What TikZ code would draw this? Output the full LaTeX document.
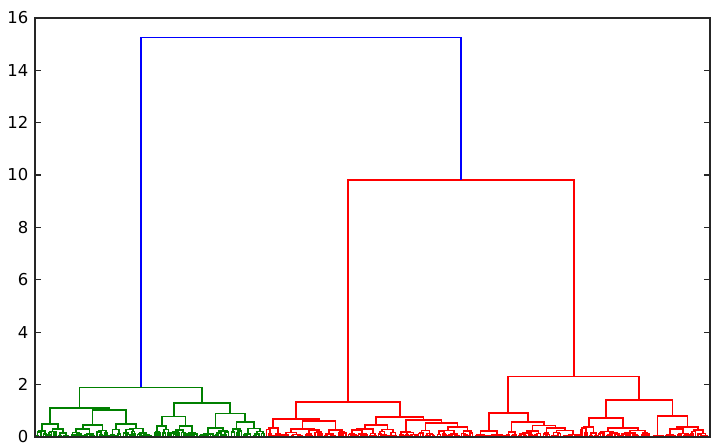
\documentclass[tikz,border=0pt]{standalone}
\usepackage{fontspec}
\setmainfont{DejaVu Sans}
\definecolor{mplgreen}{rgb}{0,0.5,0}
\tikzset{
  link/.style={line width=1.4pt, draw=\lkcol},
  frame/.style={line width=1.3pt, black!85},
  tickmark/.style={line width=0.9pt, black!85},
  ticklab/.style={anchor=east, inner sep=0pt, font=\fontsize{14}{16}\selectfont}
}
\def\lkcol{black}

% random sub-cluster between leaves a..b with top height h
\newcommand\subtr[3]{%
  \pgfmathsetmacro\sA{#1}\pgfmathsetmacro\sB{#2}\pgfmathsetmacro\sH{#3}%
  \pgfmathsetmacro\sW{\sB-\sA}%
  \ifdim\sW pt<3.2pt
    \pgfmathsetmacro\sX{(\sA+\sB)/2}\xdef\subx{\sX}\gdef\suby{0}%
  \else
    \pgfmathsetmacro\sM{\sA+\sW*(0.3+0.4*rnd)}%
    \pgfmathsetmacro\sHa{\sH*(0.3+0.6*rnd)}%
    \pgfmathsetmacro\sHb{\sH*(0.3+0.6*rnd)}%
    \edef\nxt{\noexpand\subtr{\sA}{\sM}{\sHa}}\begingroup\nxt\endgroup
    \let\sXa\subx\let\sYa\suby
    \edef\nxt{\noexpand\subtr{\sM}{\sB}{\sHb}}\begingroup\nxt\endgroup
    \let\sXb\subx\let\sYb\suby
    \draw[link] (\sXa,\sYa) |- (\sXb,\sH) -- (\sXb,\sYb);
    \pgfmathsetmacro\sX{(\sXa+\sXb)/2}\xdef\subx{\sX}\xdef\suby{\sH}%
  \fi}
\newcommand\keepnd[1]{%
  \expandafter\xdef\csname dx#1\endcsname{\subx}%
  \expandafter\xdef\csname dy#1\endcsname{\suby}}
% leaf cluster: name, a, b, h
\newcommand\clst[4]{\begingroup\subtr{#2}{#3}{#4}\endgroup\keepnd{#1}}
% join two clusters: left, right, h, new name
\newcommand\joinlk[4]{%
  \edef\jXa{\csname dx#1\endcsname}\edef\jYa{\csname dy#1\endcsname}%
  \edef\jXb{\csname dx#2\endcsname}\edef\jYb{\csname dy#2\endcsname}%
  \draw[link] (\jXa,\jYa) |- (\jXb,#3) -- (\jXb,\jYb);
  \pgfmathsetmacro\jX{(\jXa+\jXb)/2}\xdef\subx{\jX}\xdef\suby{#3}\keepnd{#4}}

\begin{document}
\begin{tikzpicture}[x=0.03cm, y=0.786cm]
\useasboundingbox (0,-0.1908) rectangle (723,16.679);
\pgfmathsetseed{11}

% green cluster
\def\lkcol{mplgreen}
\clst{A1}{36}{47}{0.22}
\clst{A2}{47}{70}{0.30}
\joinlk{A1}{A2}{0.50}{G1a}
\clst{B1}{70}{96}{0.30}
\clst{B2}{96}{108}{0.25}
\joinlk{B1}{B2}{0.46}{G1b1}
\clst{C1}{108}{122}{0.28}
\clst{C2}{122}{154}{0.33}
\joinlk{C1}{C2}{0.50}{G1b2}
\joinlk{G1b1}{G1b2}{1.03}{G1b}
\joinlk{G1a}{G1b}{1.10}{G1}
\clst{D1}{154}{170}{0.42}
\clst{D2}{170}{198}{0.42}
\joinlk{D1}{D2}{0.78}{G2a}
\clst{E1}{198}{230}{0.34}
\clst{E2}{230}{243}{0.30}
\clst{E3}{243}{265}{0.32}
\joinlk{E2}{E3}{0.57}{G2b2}
\joinlk{E1}{G2b2}{0.90}{G2b}
\joinlk{G2a}{G2b}{1.30}{G2}
\joinlk{G1}{G2}{1.89}{G}

% red cluster
\def\lkcol{red}
\clst{F1}{265}{283}{0.34}
\clst{F2}{283}{323}{0.30}
\clst{F3}{323}{347}{0.27}
\joinlk{F2}{F3}{0.61}{RL1b}
\joinlk{F1}{RL1b}{0.69}{RL1}
\clst{F4}{347}{377}{0.30}
\clst{F5}{377}{398}{0.28}
\joinlk{F4}{F5}{0.46}{RL2a}
\clst{F6}{398}{418}{0.20}
\clst{F7}{418}{436}{0.25}
\clst{F8}{436}{460}{0.25}
\clst{F9}{460}{474}{0.22}
\joinlk{F8}{F9}{0.38}{RL2d}
\joinlk{F7}{RL2d}{0.53}{RL2c}
\joinlk{F6}{RL2c}{0.65}{RL2b}
\joinlk{RL2a}{RL2b}{0.76}{RL2}
\joinlk{RL1}{RL2}{1.34}{RL}
\clst{H1}{474}{506}{0.22}
\clst{H2}{506}{518}{0.18}
\clst{H3}{518}{542}{0.22}
\clst{H4}{542}{550}{0.15}
\clst{H5}{550}{580}{0.25}
\joinlk{H4}{H5}{0.34}{RR1d}
\joinlk{H3}{RR1d}{0.44}{RR1c}
\joinlk{H2}{RR1c}{0.57}{RR1b}
\joinlk{H1}{RR1b}{0.92}{RR1}
\clst{I1}{580}{598}{0.38}
\clst{I2}{598}{650}{0.34}
\joinlk{I1}{I2}{0.73}{RR2a}
\clst{J1}{650}{664}{0.06}
\clst{J2}{664}{690}{0.30}
\clst{J3}{690}{708}{0.27}
\joinlk{J2}{J3}{0.38}{RR2c}
\joinlk{J1}{RR2c}{0.80}{RR2b}
\joinlk{RR2a}{RR2b}{1.41}{RR2}
\joinlk{RR1}{RR2}{2.31}{RR}
\joinlk{RL}{RR}{9.80}{R}

% top link
\def\lkcol{blue}
\joinlk{G}{R}{15.25}{Top}

% axes
\draw[frame] (35,0) rectangle (710,16);
\foreach \v in {0,2,...,16} {
  \draw[tickmark] (35,\v) -- (41,\v);
  \draw[tickmark] (704,\v) -- (710,\v);
  \node[ticklab] (lab\v) at (28.5,\v) {\v};
}
\end{tikzpicture}
\end{document}
